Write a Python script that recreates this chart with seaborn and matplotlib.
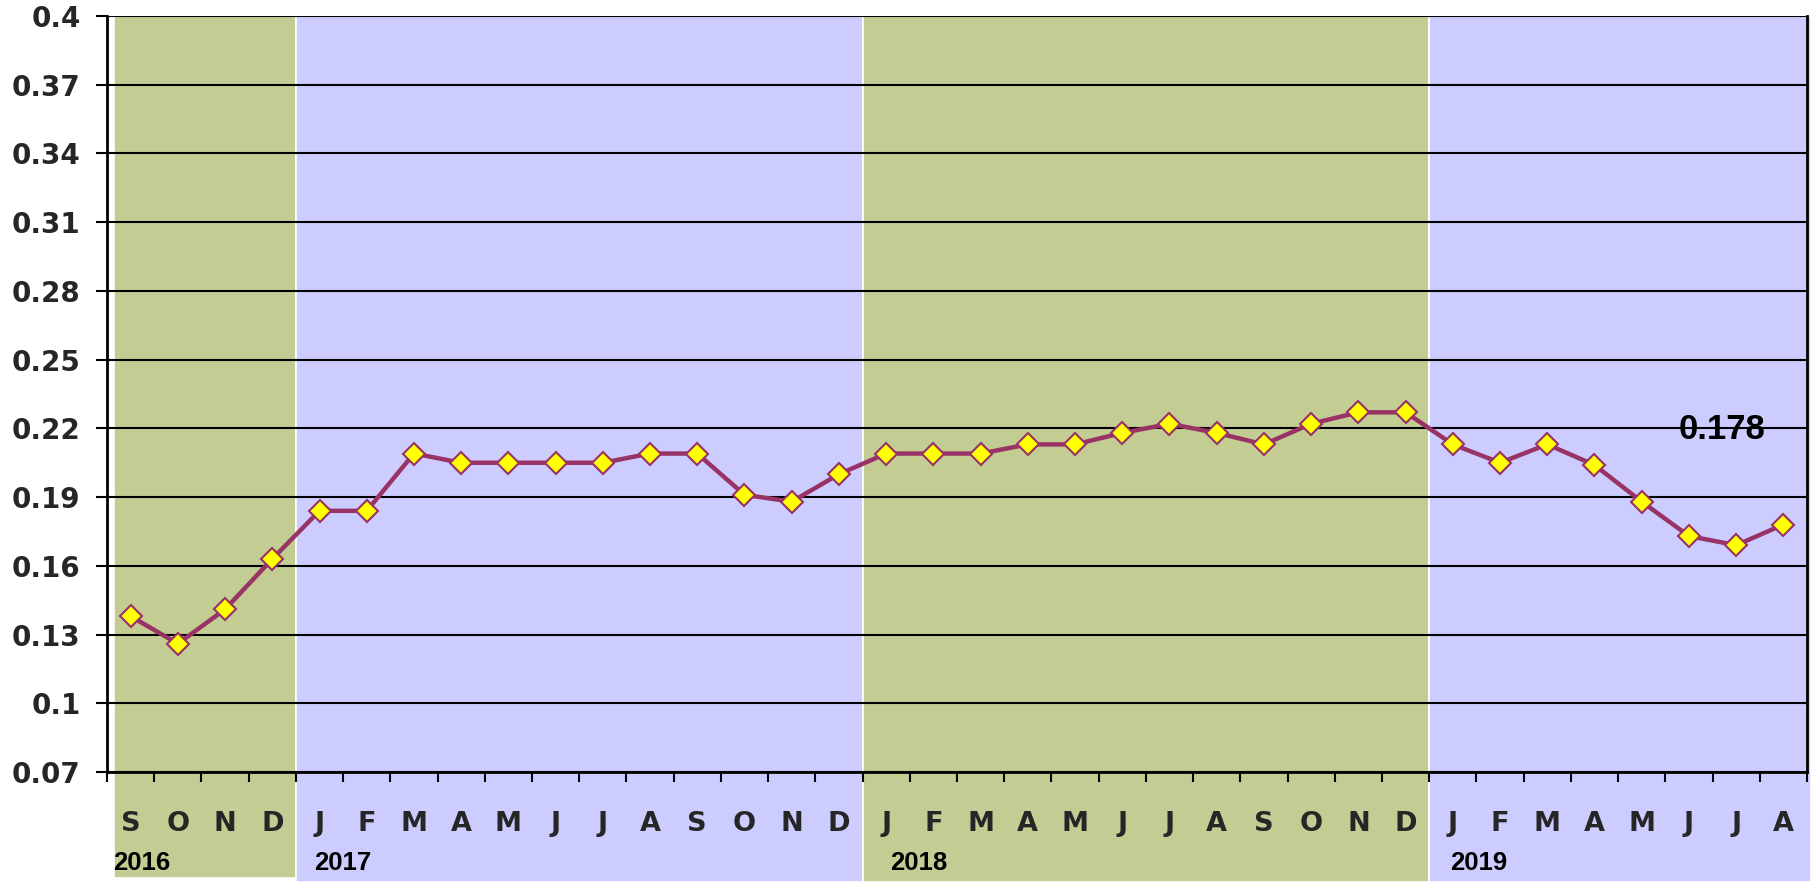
import matplotlib
matplotlib.use("Agg")
import matplotlib.pyplot as plt
import matplotlib.transforms as mtransforms
import seaborn as sns
import pandas as pd
import numpy as np

months = ["S", "O", "N", "D",
          "J", "F", "M", "A", "M", "J", "J", "A", "S", "O", "N", "D",
          "J", "F", "M", "A", "M", "J", "J", "A", "S", "O", "N", "D",
          "J", "F", "M", "A", "M", "J", "J", "A"]
values = [0.138, 0.126, 0.141, 0.163,
          0.184, 0.184, 0.209, 0.205, 0.205, 0.205, 0.205, 0.209, 0.209, 0.191, 0.188, 0.200,
          0.209, 0.209, 0.209, 0.213, 0.213, 0.218, 0.222, 0.218, 0.213, 0.222, 0.227, 0.227,
          0.213, 0.205, 0.213, 0.204, 0.188, 0.173, 0.169, 0.178]
years = ["2016", "2017", "2018", "2019"]
year_counts = [4, 12, 12, 8]
band_colors = ["#C3CC93", "#CCCCFF", "#C3CC93", "#CCCCFF"]
y_ticks = [0.07, 0.10, 0.13, 0.16, 0.19, 0.22, 0.25, 0.28, 0.31, 0.34, 0.37, 0.40]
y_ticklabels = ["0.07", "0.1", "0.13", "0.16", "0.19", "0.22", "0.25", "0.28", "0.31", "0.34", "0.37", "0.4"]
last_label = "0.178"

# layout offsets for year labels (fraction of a month from band start)
year_label_offsets = [0.13, 0.38, 0.58, 0.45]

sns.set_theme(style="white")
plt.rcParams['font.family'] = ['Liberation Sans', 'DejaVu Sans']
heavy = ['DejaVu Sans']

df = pd.DataFrame({"pos": np.arange(len(values)), "value": values})

fig = plt.figure(figsize=(18.18, 8.82), dpi=100)
ax = fig.add_axes([107/1818, 1 - 772/882, 1700/1818, 756/882])
ax.set_facecolor("white")

start = -0.5
trans = mtransforms.blended_transform_factory(ax.transData, ax.transAxes)
for i, (yr, n, c) in enumerate(zip(years, year_counts, band_colors)):
    x0 = start + (0.15 if i == 0 else 0.0)
    x1 = start + n + (0.08 if i == len(years) - 1 else 0.0)
    ymin = -0.140 if i == 0 else -0.146
    ax.axvspan(x0, x1, ymin=ymin, ymax=1.0, facecolor=c, edgecolor="white",
               linewidth=1.2, clip_on=False, zorder=0)
    ax.text(start + year_label_offsets[i], -0.121, yr, transform=trans, ha="left", va="center",
            fontsize=18.5, fontweight="bold", color="black", clip_on=False)
    start += n

for yv in y_ticks:
    ax.axhline(yv, color="black", lw=1.5, zorder=1)

sns.lineplot(data=df, x="pos", y="value", ax=ax, color="#993366", lw=3.2,
             marker="D", markersize=11.5, markerfacecolor="#FFFF00",
             markeredgecolor="#993366", markeredgewidth=1.5, zorder=3)

ax.set_xlim(-0.5, len(values) - 0.5)
ax.set_ylim(0.07, 0.40)
ax.set_xlabel("")
ax.set_ylabel("")

ax.set_yticks(y_ticks)
ax.set_yticklabels(y_ticklabels, fontsize=20, fontweight="bold", family=heavy)
ax.tick_params(axis="y", direction="out", length=8, width=1.5, color="black", pad=11, left=True)

ax.set_xticks(np.arange(-0.5, len(values), 1.0))
ax.set_xticklabels([])
ax.set_xticks(np.arange(len(values)), minor=True)
ax.set_xticklabels(months, minor=True, fontsize=19.5, fontweight="bold", family=heavy)
ax.tick_params(axis="x", which="major", direction="out", length=7.5, width=1.5, color="black", bottom=True)
ax.tick_params(axis="x", which="minor", length=0, pad=28, bottom=True)

for s in ["left", "bottom", "right"]:
    ax.spines[s].set_visible(True)
    ax.spines[s].set_color("black")
    ax.spines[s].set_linewidth(2)
ax.spines["top"].set_visible(False)

ax.text(len(values) - 1 - 1.3, 0.2193, last_label, ha="center", va="center",
        fontsize=25, fontweight="bold", color="black", zorder=4)

fig.savefig("out.png", dpi=100)
